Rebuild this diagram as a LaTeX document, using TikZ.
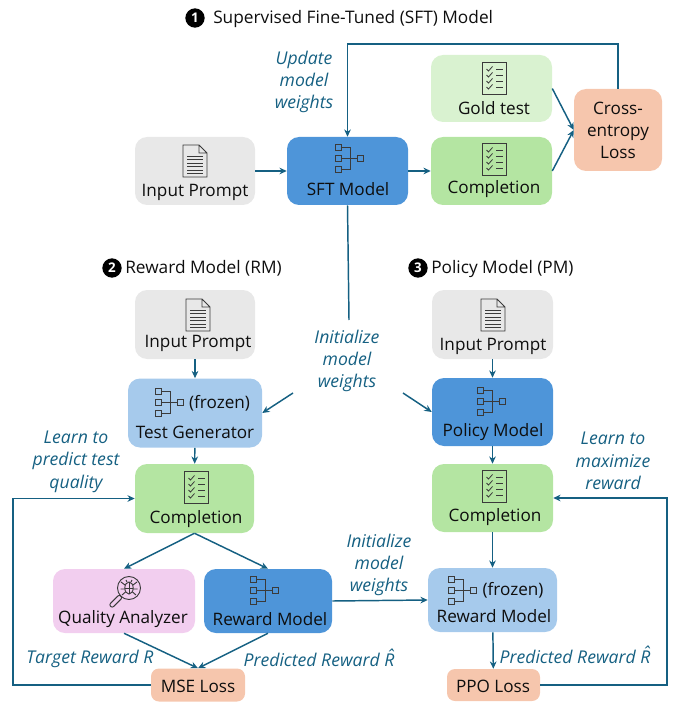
\documentclass[tikz,border=0pt]{standalone}
\usepackage{fontspec}
\setmainfont{Open Sans}
\usetikzlibrary{arrows.meta}
\definecolor{teal}{HTML}{156082}
\definecolor{cgray}{HTML}{E8E8E8}
\definecolor{cblue}{HTML}{4E95D9}
\definecolor{clblue}{HTML}{A6CAEC}
\definecolor{cgold}{HTML}{D9F2D0}
\definecolor{cgreen}{HTML}{B4E5A2}
\definecolor{corange}{HTML}{F6C6AD}
\definecolor{cpink}{HTML}{F2CEEF}
\definecolor{ink}{HTML}{0E0E0E}
\definecolor{icon}{HTML}{3A3A3A}
\tikzset{
  x=0.75pt,y=-0.75pt,
  box/.style={rounded corners=9pt,minimum width=#1,inner sep=0pt,draw=none},
  txt/.style={text=ink,font=\fontsize{12.85}{16.6}\selectfont,inner sep=0pt,align=center,yshift=-1.1pt},
  note/.style={text=teal,font=\fontsize{13.2}{16.6}\selectfont\itshape,inner sep=0pt,align=center,yshift=-0.6pt},
  head/.style={text=ink,font=\fontsize{12.95}{16}\selectfont,inner sep=0pt,anchor=west,yshift=-0.5pt},
  num/.style={circle,fill=black,text=white,minimum size=14.5pt,inner sep=0pt,font=\bfseries\fontsize{10}{12}\selectfont},
  flow/.style={draw=teal,line width=1.1pt,-{Stealth[length=5.5pt,width=5pt]}},
  line/.style={draw=teal,line width=1.1pt},
  pics/tree/.style={code={
    \begin{scope}[draw=icon,line width=0.7pt]
      \draw (-14,-14) rectangle (-8,-8) (-14,-3) rectangle (-8,3) (-14,8) rectangle (-8,14) (14,-3) rectangle (8,3);
      \draw (-8,-11) -- (1,-11) -- (1,11) -- (-8,11) (-8,0) -- (8,0);
    \end{scope}}},
  pics/doc/.style={code={
    \begin{scope}[draw=icon,line width=0.7pt]
      \draw (-12,-16) -- (4,-16) -- (12,-8) -- (12,16) -- (-12,16) -- cycle (4,-16) -- (4,-8) -- (12,-8);
      \foreach \y in {-5,-1.5,2,5.5,9,12.5}{\draw[line width=0.45pt] (-8,\y) -- (8,\y);}
    \end{scope}}},
  pics/check/.style={code={
    \begin{scope}[draw=icon,line width=0.7pt]
      \draw (-12,-16) rectangle (12,16);
      \foreach \y in {-9,-3,3,9}{
        \draw[line width=0.6pt] (-7.5,\y) -- (-5.5,\y+2) -- (-1.5,\y-2.5);
        \draw[line width=0.6pt] (2,\y) -- (9,\y);}
    \end{scope}}},
  pics/bug/.style={code={
    \begin{scope}[draw=icon,line width=0.7pt]
      \draw (0,0) circle (11.5);
      \draw[rounded corners=1.5pt,rotate=-45] (-2.2,11.5) rectangle (2.2,26);
      \draw (0,0) ellipse (4.2 and 6);
      \draw (-4.2,0) -- (4.2,0) (0,-6) -- (0,6);
      \draw (-4,-3) -- (-8,-6) (4,-3) -- (8,-6) (-4,1) -- (-8.5,1) (4,1) -- (8.5,1) (-3.5,4) -- (-7,7) (3.5,4) -- (7,7);
      \draw (-2,-6) -- (-3,-8) (2,-6) -- (3,-8);
    \end{scope}}}
}
\begin{document}
\begin{tikzpicture}
\useasboundingbox (0,0) rectangle (678,702);
% boxes
\node[box=90pt,minimum height=51pt,fill=cgray]   (in1)   at (195,171)   {};
\node[box=90.75pt,minimum height=51pt,fill=cblue]   (sft)   at (347.5,171) {};
\node[box=90.75pt,minimum height=50.25pt,fill=cgold]   (gold)  at (491.5,88.5) {};
\node[box=90.75pt,minimum height=51pt,fill=cgreen]  (comp1) at (491.5,171) {};
\node[box=66pt,minimum height=61.5pt,fill=corange] (ce)    at (618,130)   {};
\node[box=90pt,minimum height=51.75pt,fill=cgray]   (in2)   at (195,324.5) {};
\node[box=100.5pt,minimum height=51.75pt,fill=clblue]  (tg)    at (195,413)   {};
\node[box=89.25pt,minimum height=51.75pt,fill=cgreen]  (comp2) at (194.5,498.5) {};
\node[box=106.5pt,minimum height=48pt,fill=cpink]  (qa)    at (124,601)   {};
\node[box=96pt,minimum height=48pt,fill=cblue]   (rm)    at (268,601)   {};
\node[box=70.5pt,minimum height=24.75pt,rounded corners=6pt,fill=corange] (mse) at (198,685) {};
\node[box=90.75pt,minimum height=51.75pt,fill=cgray]   (in3)   at (492.5,324.5) {};
\node[box=90.75pt,minimum height=51pt,fill=cblue]   (pm)    at (492.5,412) {};
\node[box=90.75pt,minimum height=51pt,fill=cgreen]  (comp3) at (492.5,498) {};
\node[box=96.75pt,minimum height=48pt,fill=clblue]  (rm2)   at (492.5,600) {};
\node[box=69.75pt,minimum height=24pt,rounded corners=6pt,fill=corange] (ppo) at (493.5,685) {};
% free ends
\coordinate (top) at (618,44);
\coordinate (stem) at (349,320);
\coordinate (i1) at (293,393);
\coordinate (i2) at (403,393);
\coordinate (lft) at (13,600);
\coordinate (rgt) at (667,600);
% connectors
\draw[flow] (in1) -- (sft);
\draw[flow] (sft) -- (comp1);
\draw[flow] (gold.east) -- (ce.west);
\draw[flow] (comp1.east) -- (ce.west);
\draw[flow] (ce.north) -- (top) -| (sft.north);
\draw[line] (sft.south) -- (stem);
\draw[flow] (i1) -- (tg.east);
\draw[flow] (i2) -- (pm.west);
\draw[flow] (in2) -- (tg);
\draw[flow] (tg) -- (comp2);
\draw[flow] (comp2.south) -- (qa.north);
\draw[flow] (comp2.south) -- (rm.north);
\draw[flow] (qa.south) -- (mse.north);
\draw[flow] (rm.south) -- (mse.north);
\draw[flow] (mse.west) -| (lft) |- (comp2.west);
\draw[flow] (rm.east) -- (rm2.west);
\draw[flow] (in3) -- (pm);
\draw[flow] (pm) -- (comp3);
\draw[flow] (comp3) -- (rm2);
\draw[flow] (rm2) -- (ppo);
\draw[flow] (ppo.east) -| (rgt) |- (comp3.east);
% icons
\pic at (195,161) {doc};
\pic at (349,158) {tree};
\pic at (494,78) {check};
\pic at (494,159) {check};
\pic at (198,315) {doc};
\pic at (493,315) {doc};
\pic at (169,402) {tree};
\pic at (196,487) {check};
\pic at (494,486) {check};
\pic at (129,588) {bug};
\pic at (264,590) {tree};
\pic at (491,401) {tree};
\pic at (462,590) {tree};
% box texts
\node[txt] (t1) at (195,191) {Input Prompt};
\node[txt] (t2) at (348,188) {SFT Model};
\node[txt] (t3) at (494,107) {Gold test};
\node[txt] (t4) at (494,188) {Completion};
\node[txt] (t5) at (618,129) {Cross-\\entropy\\Loss};
\node[txt] (t6) at (198,342) {Input Prompt};
\node[txt] (t7) at (219.5,402) {(frozen)};
\node[txt] (t8) at (195,431) {Test Generator};
\node[txt] (t9) at (196,518) {Completion};
\node[txt] (t10) at (123,618) {Quality Analyzer};
\node[txt] (t11) at (270,618) {Reward Model};
\node[txt] (t12) at (198,685) {MSE Loss};
\node[txt] (t13) at (493,345) {Input Prompt};
\node[txt] (t14) at (493,431) {Policy Model};
\node[txt] (t15) at (495,516) {Completion};
\node[txt] (t16) at (513,589) {(frozen)};
\node[txt] (t17) at (494,615) {Reward Model};
\node[txt] (t18) at (493,685) {PPO Loss};
% headings
\node[num] (n1) at (195,18) {1};
\node[head] (h1) at (213,18) {Supervised Fine-Tuned (SFT) Model};
\node[num] (n2) at (112,268) {2};
\node[head] (h2) at (125,268) {Reward Model (RM)};
\node[num] (n3) at (418,268) {3};
\node[head] (h3) at (431,268) {Policy Model (PM)};
% notes
\node[note] (a1) at (304,81) {Update\\model\\weights};
\node[note] (a2) at (347,360) {Initialize\\model\\weights};
\node[note] (a3) at (76,461) {Learn to\\predict test\\quality};
\node[note] (a4) at (613,460) {Learn to\\maximize\\reward};
\node[note] (a5) at (379,564) {Initialize\\model\\weights};
\node[note] (a6) at (90,658) {Target Reward R};
\node[note] (a7) at (319,657) {Predicted Reward R̂};
\node[note] (a8) at (575,654) {Predicted Reward R̂};
\end{tikzpicture}
\end{document}
